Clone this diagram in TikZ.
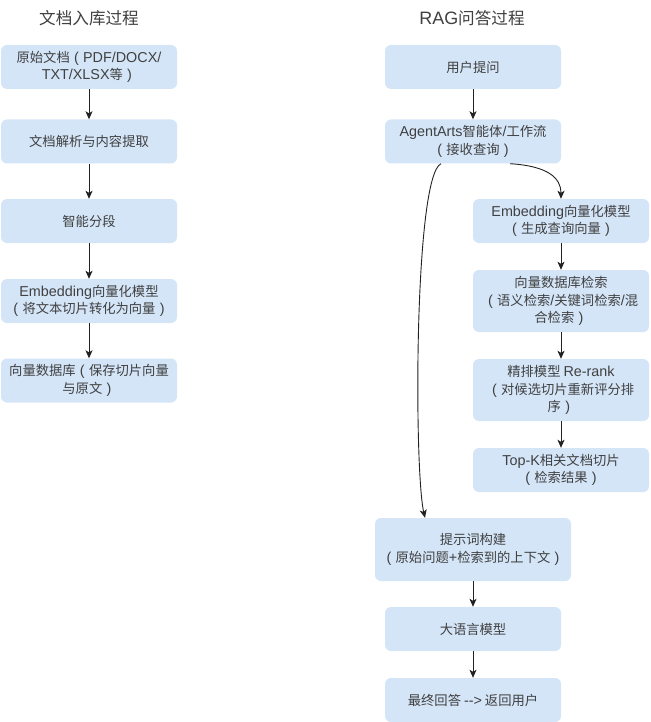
\documentclass[tikz,border=0pt]{standalone}
\usepackage{fontspec}
\setmainfont{Noto Sans CJK SC}
\newfontfamily\latf[Scale=1.08]{Liberation Sans}
\newcommand\la[1]{{\latf #1}}
\newcommand\lp{\makebox[1em][c]{\latf (}}
\newcommand\rp{\makebox[1em][c]{\latf )}}
\usetikzlibrary{arrows.meta}
\definecolor{boxfill}{HTML}{D4E5F8}
\definecolor{txt}{HTML}{404040}
\definecolor{line}{HTML}{222222}
\tikzset{
  box/.style={fill=boxfill, draw=none, rounded corners=6pt, text=txt,
    align=center, font=\fontsize{13.3}{17.5}\selectfont, inner sep=0pt},
  ttl/.style={text=txt, font=\fontsize{16.6}{20}\selectfont},
  arr/.style={draw=line, line width=0.9pt, -{Stealth[length=8pt,width=7pt,inset=2pt]}}
}
\begin{document}
\begin{tikzpicture}[x=1pt,y=-1pt]
\useasboundingbox (0,0) rectangle (650,722);
\fill[white] (0,0) rectangle (650,722);
% titles
\node[ttl] (t1) at (89,18) {文档入库过程};
\node[ttl] (t2) at (472,18) {\la{RAG}问答过程};
% left column
\node[box, minimum width=176, minimum height=44] (l1) at (89,67) {原始文档\lp\la{PDF/DOCX/}\\\la{TXT/XLSX}等\rp};
\node[box, minimum width=176, minimum height=44] (l2) at (89,141.5) {文档解析与内容提取};
\node[box, minimum width=176, minimum height=44] (l3) at (89,221) {智能分段};
\node[box, minimum width=176, minimum height=44] (l4) at (89,301) {\la{Embedding}向量化模型\\\lp 将文本切片转化为向量\rp};
\node[box, minimum width=176, minimum height=44] (l5) at (89,380.5) {向量数据库\lp 保存切片向量\\与原文\rp};
\draw[arr] (l1) -- (l2);
\draw[arr] (l2) -- (l3);
\draw[arr] (l3) -- (l4);
\draw[arr] (l4) -- (l5);
% right column
\node[box, minimum width=176, minimum height=44] (r1) at (473,67) {用户提问};
\node[box, minimum width=176, minimum height=44] (r2) at (473,141.5) {\la{AgentArts}智能体\la{/}工作流\\\lp 接收查询\rp};
\node[box, minimum width=176, minimum height=44] (r3) at (561,221) {\la{Embedding}向量化模型\\\lp 生成查询向量\rp};
\node[box, minimum width=176, minimum height=62] (r4) at (561,301) {向量数据库检索\\\lp 语义检索\la{/}关键词检索\la{/}混\\合检索\rp};
\node[box, minimum width=176, minimum height=62] (r5) at (561,390) {精排模型 \la{Re-rank}\\\lp 对候选切片重新评分排\\序\rp};
\node[box, minimum width=176, minimum height=44] (r6) at (561,470) {\la{Top-K}相关文档切片\\\lp 检索结果\rp};
\node[box, minimum width=196, minimum height=63] (r7) at (473,549.5) {提示词构建\\\lp 原始问题\la{+}检索到的上下文\rp};
\node[box, minimum width=176, minimum height=44] (r8) at (473,629) {大语言模型};
\node[box, minimum width=176, minimum height=44] (r9) at (473,700) {最终回答 \la{-{}-{}>} 返回用户};
\draw[arr] (r1) -- (r2);
\draw[arr] ([xshift=37pt]r2.south) .. controls (548,166) and (561,178) .. (r3.north);
\draw[arr] ([xshift=-32pt]r2.south) .. controls (414,176) and (414,470) .. ([xshift=-48pt]r7.north);
\draw[arr] (r3) -- (r4);
\draw[arr] (r4) -- (r5);
\draw[arr] (r5) -- (r6);
\draw[arr] (r7) -- (r8);
\draw[arr] (r8) -- (r9);
\end{tikzpicture}
\end{document}
